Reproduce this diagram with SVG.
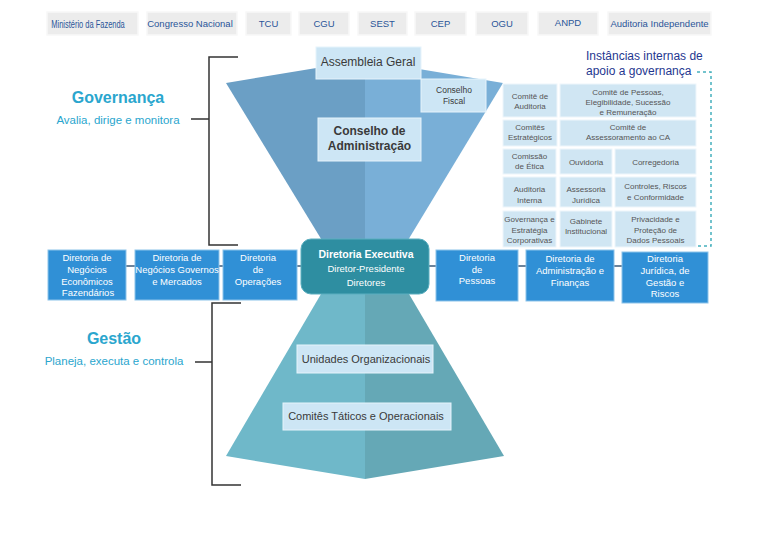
<svg xmlns="http://www.w3.org/2000/svg" width="768" height="543" viewBox="0 0 768 543">
<style>
text{font-family:"Liberation Sans",Arial,sans-serif;text-anchor:middle}
.top rect{fill:#ececec;stroke:#f8f8f8;stroke-width:1.5}
.top text{font-size:9.5px;fill:#2a5599}
.top text.nar{font-size:11px}
.lt rect{fill:#cde6f5;stroke:#e6f3fb;stroke-width:1}
.lt text{fill:#3a3a3a}
.cell rect{fill:#d0e6f3;stroke:#eef6fb;stroke-width:1}
.cell text{font-size:8px;fill:#555}
.dir rect{fill:#3090d6;stroke:#8cc3ea;stroke-width:1}
.dir text{font-size:9.5px;fill:#fff}
.brk{fill:none;stroke:#333;stroke-width:1.5}
.conn{stroke:#3b5a7a;stroke-width:1.5}
.ttl{font-weight:bold;font-size:16px;fill:#2aa6ce}
.sub{font-size:11.5px;fill:#2aa6ce}
</style>

<!-- funnels -->
<g id="funnel-governanca">
<polygon points="226,83 365,60 365,265 337,265" fill="#6b9fc5"/>
<polygon points="365,60 503,83 393,265 365,265" fill="#79afd7"/>
</g>
<g id="funnel-gestao">
<polygon points="338,265 365,265 365,479 226,456" fill="#6fb8c9"/>
<polygon points="365,265 392,265 504,456 365,479" fill="#65a8b6"/>
</g>

<!-- connectors and brackets -->
<g id="connectors">
<line class="conn" x1="126" y1="266" x2="135" y2="266"/>
<line class="conn" x1="219" y1="266" x2="223" y2="266"/>
<line class="conn" x1="297" y1="266" x2="301" y2="266"/>
<line class="conn" x1="429" y1="266" x2="436" y2="266"/>
<line class="conn" x1="518" y1="266" x2="526" y2="266"/>
<line class="conn" x1="614" y1="266" x2="622" y2="266"/>
<path class="brk" d="M238,57 H209 V245 H238 M191,119 H209"/>
<path class="brk" d="M241,303 H212 V485 H241 M195,362 H212"/>
<path d="M697,72 H711 V246 H697" fill="none" stroke="#45b0bd" stroke-width="1.5" stroke-dasharray="3 3"/>
</g>

<!-- top row external bodies -->
<g class="top">
<g id="ministerio"><rect x="47" y="12" width="91" height="23"/><text class="nar" transform="translate(88,27.5) scale(0.68,1)">Ministério da Fazenda</text></g>
<g id="congresso"><rect x="147" y="12" width="90" height="23"/><text x="190" y="26.5">Congresso Nacional</text></g>
<g id="tcu"><rect x="246" y="12" width="45" height="23"/><text x="268.5" y="26.5">TCU</text></g>
<g id="cgu"><rect x="299" y="12" width="50" height="23"/><text x="324" y="26.5">CGU</text></g>
<g id="sest"><rect x="358" y="12" width="49" height="23"/><text x="382.5" y="26.5">SEST</text></g>
<g id="cep"><rect x="415" y="12" width="51" height="23"/><text x="440.5" y="26.5">CEP</text></g>
<g id="ogu"><rect x="476" y="12" width="52" height="23"/><text x="502" y="26.5">OGU</text></g>
<g id="anpd"><rect x="538" y="12" width="60" height="23"/><text x="568" y="25.5">ANPD</text></g>
<g id="auditoria-independente"><rect x="608" y="12" width="103" height="23"/><text x="659.5" y="26.5">Auditoria Independente</text></g>
</g>

<!-- governance side labels -->
<g id="governanca-label">
<text class="ttl" x="118" y="103">Governança</text>
<text class="sub" x="118" y="124">Avalia, dirige e monitora</text>
</g>
<g id="gestao-label">
<text class="ttl" x="114" y="344">Gestão</text>
<text class="sub" x="114" y="365">Planeja, executa e controla</text>
</g>

<!-- funnel boxes -->
<g class="lt">
<g id="assembleia-geral"><rect x="316" y="47" width="105" height="32"/><text x="368" y="66" font-size="12">Assembleia Geral</text></g>
<g id="conselho-fiscal"><rect x="421" y="79" width="65" height="33"/><text x="454" y="93" font-size="8.5">Conselho</text><text x="454" y="104" font-size="8.5">Fiscal</text></g>
<g id="conselho-administracao"><rect x="318" y="118" width="103" height="43"/><text x="369.5" y="135" font-size="12" font-weight="bold" fill="#404040">Conselho de</text><text x="369.5" y="150" font-size="12" font-weight="bold" fill="#404040">Administração</text></g>
<g id="unidades-organizacionais"><rect x="297" y="345" width="136" height="28"/><text x="366" y="363" font-size="11">Unidades Organizacionais</text></g>
<g id="comites-taticos"><rect x="283" y="403" width="168" height="27"/><text x="366" y="420" font-size="11">Comitês Táticos e Operacionais</text></g>
</g>

<!-- Diretoria Executiva -->
<g id="diretoria-executiva">
<rect x="301" y="239" width="128" height="55" rx="10" fill="#2e8ea1" stroke="#5aaebf" stroke-width="1"/>
<text x="366" y="258" font-size="10.5" font-weight="bold" fill="#fff">Diretoria Executiva</text>
<text x="366" y="272" font-size="9.5" fill="#fff">Diretor-Presidente</text>
<text x="366" y="286" font-size="9.5" fill="#fff">Diretores</text>
</g>

<!-- directorates -->
<g class="dir">
<g id="dir-negocios-economicos"><rect x="48" y="250" width="78" height="50"/><text x="87" y="261">Diretoria de</text><text x="87" y="273">Negócios</text><text x="87" y="284.5">Econômicos</text><text x="88" y="296">Fazendários</text></g>
<g id="dir-negocios-governos"><rect x="135" y="250" width="84" height="50"/><text x="177" y="261">Diretoria de</text><text x="177" y="273">Negócios Governos</text><text x="177" y="284.5">e Mercados</text></g>
<g id="dir-operacoes"><rect x="223" y="250" width="74" height="50"/><text x="258" y="261">Diretoria</text><text x="258" y="273">de</text><text x="258" y="284.5">Operações</text></g>
<g id="dir-pessoas"><rect x="436" y="250" width="82" height="51"/><text x="477" y="261">Diretoria</text><text x="477" y="272.5">de</text><text x="477" y="284">Pessoas</text></g>
<g id="dir-administracao-financas"><rect x="526" y="250" width="88" height="51"/><text x="570" y="262">Diretoria de</text><text x="570" y="274">Administração e</text><text x="570" y="285.5">Finanças</text></g>
<g id="dir-juridica"><rect x="622" y="252" width="86" height="51"/><text x="665" y="262">Diretoria</text><text x="665" y="274">Jurídica, de</text><text x="665" y="285.5">Gestão e</text><text x="665" y="297">Riscos</text></g>
</g>

<!-- internal support instances -->
<g id="instancias-titulo">
<text x="586" y="60" font-size="12" fill="#1f3790" style="text-anchor:start">Instâncias internas de</text>
<text x="586" y="75" font-size="12" fill="#1f3790" style="text-anchor:start">apoio a governança</text>
</g>
<g class="cell">
<g id="comite-auditoria"><rect x="503" y="84" width="54" height="33"/><text x="530" y="99">Comitê de</text><text x="530" y="109">Auditoria</text></g>
<g id="comite-pessoas"><rect x="560" y="84" width="136" height="33"/><text x="628" y="95">Comitê de Pessoas,</text><text x="628" y="105">Elegibilidade, Sucessão</text><text x="628" y="115">e Remuneração</text></g>
<g id="comites-estrategicos"><rect x="503" y="120" width="54" height="26"/><text x="530" y="130">Comitês</text><text x="530" y="140">Estratégicos</text></g>
<g id="comite-assessoramento"><rect x="560" y="120" width="136" height="26"/><text x="628" y="130">Comitê de</text><text x="628" y="140">Assessoramento ao CA</text></g>
<g id="comissao-etica"><rect x="503" y="149" width="53" height="25"/><text x="529.5" y="159">Comissão</text><text x="529.5" y="169">de Ética</text></g>
<g id="ouvidoria"><rect x="560" y="149" width="52" height="25"/><text x="586" y="164.5">Ouvidoria</text></g>
<g id="corregedoria"><rect x="615" y="149" width="81" height="25"/><text x="655.5" y="164.5">Corregedoria</text></g>
<g id="auditoria-interna"><rect x="503" y="177" width="53" height="30"/><text x="529.5" y="192">Auditoria</text><text x="529.5" y="203">Interna</text></g>
<g id="assessoria-juridica"><rect x="560" y="177" width="52" height="30"/><text x="586" y="192">Assessoria</text><text x="586" y="203">Jurídica</text></g>
<g id="controles-riscos"><rect x="615" y="177" width="81" height="30"/><text x="655.5" y="189">Controles, Riscos</text><text x="655.5" y="200">e Conformidade</text></g>
<g id="governanca-estrategia"><rect x="503" y="211" width="53" height="36"/><text x="529.5" y="222">Governança e</text><text x="529.5" y="232.5">Estratégia</text><text x="529.5" y="243">Corporativas</text></g>
<g id="gabinete"><rect x="560" y="211" width="52" height="36"/><text x="586" y="224">Gabinete</text><text x="586" y="234">Institucional</text></g>
<g id="privacidade"><rect x="615" y="211" width="81" height="36"/><text x="655.5" y="222">Privacidade e</text><text x="655.5" y="232.5">Proteção de</text><text x="655.5" y="243">Dados Pessoais</text></g>
</g>
</svg>
